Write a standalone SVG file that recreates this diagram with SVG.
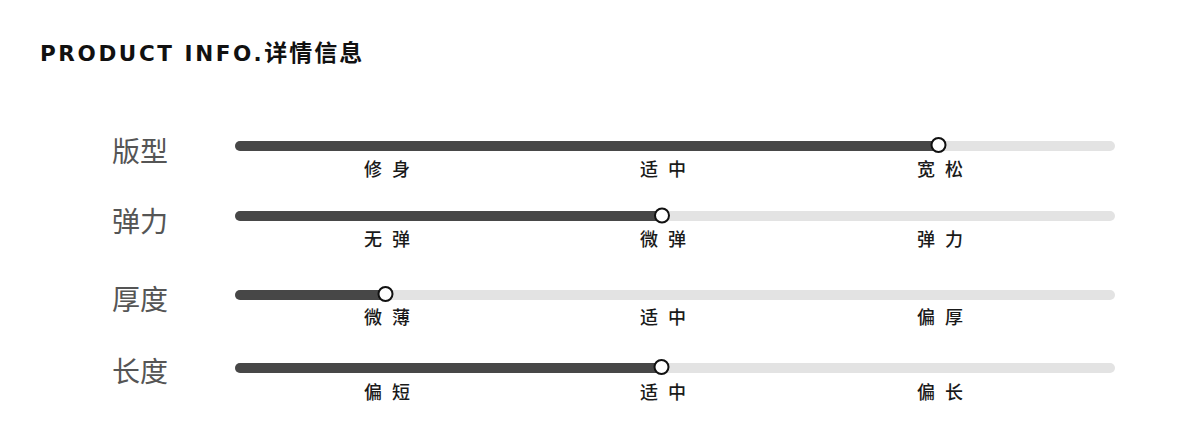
<svg xmlns="http://www.w3.org/2000/svg" width="1200" height="440" viewBox="0 0 1200 440">
<style>
.title{font-family:"DejaVu Sans","Noto Sans CJK SC",sans-serif;font-weight:bold;font-size:21.5px;fill:#111;letter-spacing:2.6px}
.tcjk{font-family:"Noto Sans CJK SC",sans-serif;font-weight:bold;font-size:23px;letter-spacing:2px}
.lbl{font-family:"Noto Sans CJK SC",sans-serif;font-size:28px;fill:#555}
.sub{font-family:"Noto Sans CJK SC",sans-serif;font-weight:500;font-size:18px;fill:#1a1a1a;text-anchor:middle;word-spacing:6px}
.track{stroke:#e3e3e3;stroke-width:10;stroke-linecap:round}
.fill{stroke:#474747;stroke-width:10;stroke-linecap:round}
.knob{fill:#fff;stroke:#111;stroke-width:2}
</style>
<rect width="1200" height="440" fill="#fff"/>
<text class="title" x="40" y="61">PRODUCT INFO.<tspan class="tcjk">详情信息</tspan></text>

<g id="row-banxing">
<text class="lbl" x="112" y="162">版型</text>
<line class="track" x1="240" y1="146" x2="1110" y2="146"/>
<line class="fill" x1="240" y1="146" x2="938" y2="146"/>
<circle class="knob" cx="938.5" cy="145" r="7"/>
<text class="sub" x="387" y="176">修 身</text>
<text class="sub" x="663" y="176">适 中</text>
<text class="sub" x="940" y="176">宽 松</text>
</g>

<g id="row-tanli">
<text class="lbl" x="112" y="232">弹力</text>
<line class="track" x1="240" y1="216" x2="1110" y2="216"/>
<line class="fill" x1="240" y1="216" x2="662" y2="216"/>
<circle class="knob" cx="662" cy="215.5" r="7"/>
<text class="sub" x="387" y="246">无 弹</text>
<text class="sub" x="663" y="246">微 弹</text>
<text class="sub" x="940" y="246">弹 力</text>
</g>

<g id="row-houdu">
<text class="lbl" x="112" y="310">厚度</text>
<line class="track" x1="240" y1="295" x2="1110" y2="295"/>
<line class="fill" x1="240" y1="295" x2="386" y2="295"/>
<circle class="knob" cx="385.5" cy="294" r="7"/>
<text class="sub" x="387" y="324">微 薄</text>
<text class="sub" x="663" y="324">适 中</text>
<text class="sub" x="940" y="324">偏 厚</text>
</g>

<g id="row-changdu">
<text class="lbl" x="112" y="382">长度</text>
<line class="track" x1="240" y1="368" x2="1110" y2="368"/>
<line class="fill" x1="240" y1="368" x2="661" y2="368"/>
<circle class="knob" cx="661.5" cy="367" r="7"/>
<text class="sub" x="387" y="399">偏 短</text>
<text class="sub" x="663" y="399">适 中</text>
<text class="sub" x="940" y="399">偏 长</text>
</g>
<g id="connectors"></g>
</svg>
